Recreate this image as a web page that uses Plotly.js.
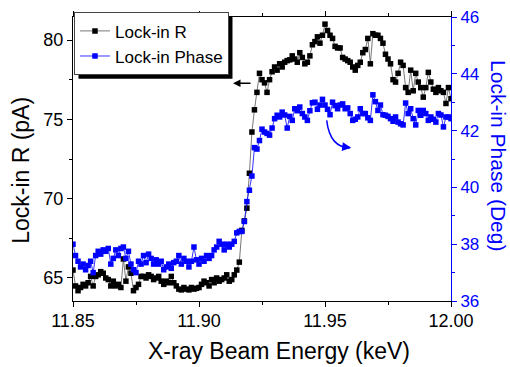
<!DOCTYPE html>
<html>
<head>
<meta charset="utf-8">
<script src="https://cdn.plot.ly/plotly-3.0.1.min.js"></script>
<style>html,body{margin:0;padding:0;background:#fff;}#chart{width:510px;height:367px;}</style>
</head>
<body>
<div id="chart"></div>
<script>
// X-ray beam energy (keV)
const energy = [
11.850,11.851,11.852,11.853,11.854,11.855,11.856,11.857,11.858,11.859,
11.860,11.861,11.862,11.863,11.864,11.865,11.866,11.867,11.868,11.869,
11.870,11.871,11.872,11.873,11.874,11.875,11.876,11.877,11.878,11.879,
11.880,11.881,11.882,11.883,11.884,11.885,11.886,11.887,11.888,11.889,
11.890,11.891,11.892,11.893,11.894,11.895,11.896,11.897,11.898,11.899,
11.900,11.901,11.902,11.903,11.904,11.905,11.906,11.907,11.908,11.909,
11.910,11.911,11.912,11.913,11.914,11.915,11.916,11.917,11.918,11.919,
11.920,11.921,11.922,11.923,11.924,11.925,11.926,11.927,11.928,11.929,
11.930,11.931,11.932,11.933,11.934,11.935,11.936,11.937,11.938,11.939,
11.940,11.941,11.942,11.943,11.944,11.945,11.946,11.947,11.948,11.949,
11.950,11.951,11.952,11.953,11.954,11.955,11.956,11.957,11.958,11.959,
11.960,11.961,11.962,11.963,11.964,11.965,11.966,11.967,11.968,11.969,
11.970,11.971,11.972,11.973,11.974,11.975,11.976,11.977,11.978,11.979,
11.980,11.981,11.982,11.983,11.984,11.985,11.986,11.987,11.988,11.989,
11.990,11.991,11.992,11.993,11.994,11.995,11.996,11.997,11.998,11.999,
12.000];

// Lock-in R (pA)
const lockinR = [
65.5,64.5,64.2,64.4,64.6,64.5,64.7,65.1,64.5,65.1,
65.2,65.4,65.3,65.0,64.9,64.5,64.8,64.5,64.6,64.4,
66.2,64.8,65.7,65.3,64.2,64.4,64.6,65.1,65.1,65.0,
65.2,65.1,64.9,65.0,65.1,64.8,64.6,64.8,64.7,65.1,
64.7,64.5,64.3,64.25,64.4,64.3,64.25,64.4,64.3,64.35,
64.4,64.6,64.8,64.7,64.5,64.9,64.7,65.0,64.8,64.9,
65.0,65.2,64.8,64.9,65.2,65.5,66.0,68.0,68.6,69.4,
71.6,74.2,75.6,76.7,77.9,77.5,77.3,76.7,77.5,78.0,
78.3,78.1,78.5,78.3,78.6,78.7,78.75,79.0,78.8,78.6,
79.2,78.9,78.5,78.6,79.0,79.7,79.9,80.2,79.8,80.3,
81.0,80.6,80.3,80.1,79.6,79.5,79.5,78.9,78.8,78.7,
78.6,78.3,78.1,78.4,78.6,79.2,79.4,80.1,78.5,80.4,
80.3,80.3,80.1,79.8,79.1,78.8,78.5,77.5,77.35,77.9,
78.6,78.4,77.0,76.7,78.1,76.8,77.9,77.35,77.0,76.4,
77.0,77.96,77.35,76.9,76.7,77.0,76.8,76.7,76.0,77.0,
76.3];

// Lock-in Phase (Deg)
const lockinPhase = [
38.0,37.6,37.4,37.2,37.3,37.1,37.25,37.4,37.0,37.6,
37.75,37.65,37.8,37.75,37.85,37.3,37.5,37.8,37.6,37.85,
37.9,37.5,37.75,37.3,37.1,37.0,37.4,37.3,37.6,37.35,
37.65,37.5,37.3,37.45,37.3,37.4,37.1,37.2,37.3,37.15,
37.35,37.4,37.6,37.3,37.5,37.4,37.2,37.4,37.9,37.45,
37.3,37.5,37.4,37.6,37.5,37.6,37.8,37.9,38.1,38.0,
37.8,38.0,37.9,38.0,38.1,38.4,38.45,38.45,38.8,39.5,
39.9,40.4,41.4,41.35,41.65,42.05,41.95,41.9,41.84,42.09,
42.42,42.54,42.48,42.65,42.55,42.09,42.5,42.36,42.77,42.7,
42.83,42.6,42.48,42.36,42.7,42.98,43.0,42.75,42.9,43.1,
42.9,42.75,42.56,43.0,42.88,42.77,42.9,42.94,42.77,42.8,
42.6,42.36,42.4,42.48,42.77,42.6,42.6,42.45,42.36,43.26,
43.02,42.71,42.9,42.56,42.54,42.5,42.42,42.33,42.48,42.3,
42.24,42.2,42.97,42.6,42.77,42.42,42.2,42.71,42.54,42.71,
42.6,42.36,42.48,42.4,42.3,42.6,42.55,42.13,42.48,42.48,
42.42];

const seriesNames = ["Lock-in R", "Lock-in Phase"];
const xTitle = "X-ray Beam Energy (keV)";
const yTitle = "Lock-in R (pA)";
const y2Title = "Lock-in Phase (Deg)";

const FONT = "Arial, 'Liberation Sans', sans-serif";
const BLUE = "#0000ff";

const traces = [
  {
    x: energy, y: lockinR, name: seriesNames[0], type: "scatter", mode: "lines+markers",
    line: {color: "#555555", width: 0.8},
    marker: {symbol: "square", size: 5.5, color: "#000000"},
    yaxis: "y"
  },
  {
    x: energy, y: lockinPhase, name: seriesNames[1], type: "scatter", mode: "lines+markers",
    line: {color: BLUE, width: 0.8},
    marker: {symbol: "square", size: 5.5, color: BLUE},
    yaxis: "y2"
  }
];

const layout = {
  width: 510, height: 367,
  margin: {l: 73, r: 59, t: 14, b: 66},
  paper_bgcolor: "#ffffff", plot_bgcolor: "#ffffff",
  font: {family: FONT, size: 18, color: "#000000"},
  showlegend: true,
  legend: {
    x: 0.0026, y: 1.0164, xanchor: "left", yanchor: "top",
    bgcolor: "#ffffff", bordercolor: "#444444", borderwidth: 1,
    font: {family: FONT, size: 17, color: "#000000"},
    tracegroupgap: 0, itemwidth: 30
  },
  xaxis: {
    range: [11.85, 12.0], tick0: 11.85, dtick: 0.05, tickformat: ".2f",
    ticks: "outside", ticklen: 5, tickwidth: 1, tickcolor: "#000",
    showline: true, linecolor: "#000", linewidth: 1, mirror: "ticks",
    showgrid: false, zeroline: false,
    minor: {dtick: 0.025, ticks: "outside", ticklen: 3, tickcolor: "#000"},
    tickfont: {family: FONT, size: 18, color: "#000"},
    ticklabelstandoff: -2
  },
  yaxis: {
    range: [63.55, 81.45], tick0: 65, dtick: 5,
    ticks: "outside", ticklen: 5, tickwidth: 1, tickcolor: "#000",
    showline: true, linecolor: "#000", linewidth: 1,
    showgrid: false, zeroline: false,
    minor: {dtick: 2.5, ticks: "outside", ticklen: 3, tickcolor: "#000"},
    tickfont: {family: FONT, size: 18, color: "#000"}
  },
  yaxis2: {
    overlaying: "y", side: "right", anchor: "x",
    range: [36, 46], tick0: 36, dtick: 2,
    ticks: "outside", ticklen: 5, tickwidth: 1, tickcolor: BLUE,
    showline: true, linecolor: BLUE, linewidth: 1,
    showgrid: false, zeroline: false,
    minor: {dtick: 1, ticks: "outside", ticklen: 3, tickcolor: BLUE},
    tickfont: {family: FONT, size: 17, color: BLUE}
  },
  shapes: [
    {type: "rect", xref: "paper", yref: "paper", x0: 0.0132, x1: 0.41, y0: 0.8467, y1: 1.0035,
     fillcolor: "#000000", line: {width: 0}, layer: "above"},
    {type: "path", xref: "x", yref: "y2",
     path: "M 11.95067,42.362 Q 11.95198,41.396 11.95992,41.396",
     line: {color: BLUE, width: 1.5}, layer: "above"}
  ],
  annotations: [
    {x: 11.9135, y: 77.27, xref: "x", yref: "y", ax: 19, ay: 0, text: "",
     showarrow: true, arrowhead: 2, arrowsize: 1, arrowwidth: 1.5, arrowcolor: "#000"},
    {x: 11.9604, y: 41.396, xref: "x", yref: "y2", ax: -8, ay: -1, text: "",
     showarrow: true, arrowhead: 2, arrowsize: 1.2, arrowwidth: 1.5, arrowcolor: BLUE},
    {x: 0.5455, y: -0.1777, xref: "paper", yref: "paper", text: xTitle,
     showarrow: false, font: {family: FONT, size: 23, color: "#000"}, xanchor: "center", yanchor: "middle"},
    {x: -0.1376, y: 0.4617, xref: "paper", yref: "paper", text: yTitle, textangle: -90,
     showarrow: false, font: {family: FONT, size: 23, color: "#000"}, xanchor: "center", yanchor: "middle"},
    {x: 1.127, y: 0.514, xref: "paper", yref: "paper", text: y2Title, textangle: 90,
     showarrow: false, font: {family: FONT, size: 21, color: BLUE}, xanchor: "center", yanchor: "middle"}
  ]
};

Plotly.newPlot("chart", traces, layout, {displayModeBar: false, staticPlot: true}).then(function (gd) {
  // place the legend's drop shadow 4px right/below the rendered legend box
  const bg = gd.querySelector(".legend .bg");
  const svg = gd.querySelector(".main-svg");
  if (!bg || !svg) return;
  const r = bg.getBoundingClientRect();
  const p = svg.getBoundingClientRect();
  const s = gd._fullLayout._size;
  const L = r.left - p.left, T = r.top - p.top, R = r.right - p.left, B = r.bottom - p.top;
  return Plotly.relayout(gd, {
    "shapes[0].x0": (L + 4 - s.l) / s.w,
    "shapes[0].x1": (R + 4 - s.l) / s.w,
    "shapes[0].y0": 1 - (B + 4 - s.t) / s.h,
    "shapes[0].y1": 1 - (T + 4 - s.t) / s.h
  });
});
</script>
</body>
</html>
